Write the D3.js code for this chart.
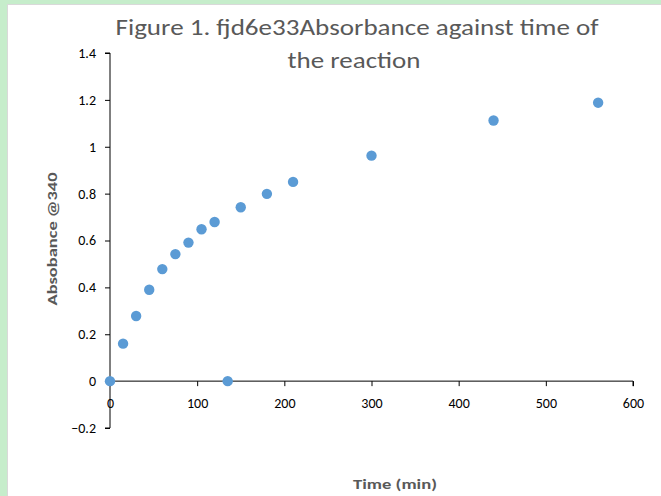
<!DOCTYPE html>
<html>
<head>
<meta charset="utf-8">
<script src="https://cdn.jsdelivr.net/npm/d3@7"></script>
<style>
  html, body { margin: 0; padding: 0; background: #c6edcb; }
  svg { display: block; }
  text { font-family: Carlito, Lato, "Open Sans", sans-serif; }
</style>
</head>
<body>
<svg id="chart" width="661" height="496"></svg>
<script>
// Reaction time course: absorbance at 340 nm
const timeMin = [0, 15, 30, 45, 60, 75, 90, 105, 120, 135, 150, 180, 210, 300, 440, 560];
const absorbance = [0, 0.160, 0.278, 0.390, 0.478, 0.542, 0.591, 0.648, 0.679, 0, 0.742, 0.799, 0.850, 0.962, 1.112, 1.188];
const xTicks = [0, 100, 200, 300, 400, 500, 600];
const yTicks = [-0.2, 0, 0.2, 0.4, 0.6, 0.8, 1, 1.2, 1.4];
const titleLines = ["Figure 1. fjd6e33Absorbance against time of", "the reaction"];

const points = timeMin.map((t, i) => ({ t, a: absorbance[i] }));

const svg = d3.select("#chart");

// chart area
svg.append("rect")
  .attr("x", 7.5).attr("y", 4.5)
  .attr("width", 670).attr("height", 500)
  .attr("fill", "#ffffff")
  .attr("stroke", "#d9d9d9");

const x = d3.scaleLinear().domain([0, 600]).range([110, 633]);
const y = d3.scaleLinear().domain([-0.2, 1.4]).range([428, 53]);

// y axis
const yAxis = svg.append("g")
  .attr("transform", `translate(${x(0)},0)`)
  .call(d3.axisLeft(y).tickValues(yTicks).tickSize(5).tickPadding(9)
    .tickFormat(d => d3.format("")(Math.round(d * 10) / 10)));
yAxis.select(".domain").attr("stroke", "#000").attr("d", `M-5,${y(1.4)}H0V${y(-0.2)}H-5`);
yAxis.selectAll(".tick line").attr("stroke", "#000");
yAxis.selectAll(".tick text").attr("fill", "#000").style("font-size", "14px");

// x axis at y = 0
const xAxis = svg.append("g")
  .attr("transform", `translate(0,${y(0)})`)
  .call(d3.axisBottom(x).tickValues(xTicks).tickSize(5).tickPadding(12));
xAxis.select(".domain").attr("stroke", "#000").attr("d", `M${x(0)},0H${x(600)}V5`);
xAxis.selectAll(".tick line").attr("stroke", "#000");
xAxis.selectAll(".tick text").attr("fill", "#000").style("font-size", "14px");

// points
svg.append("g")
  .selectAll("circle")
  .data(points)
  .join("circle")
  .attr("cx", d => x(d.t))
  .attr("cy", d => y(d.a))
  .attr("r", 5.2)
  .attr("fill", "#5b9bd5");

// title
const title = svg.append("text")
  .attr("text-anchor", "middle")
  .attr("fill", "#595959")
  .style("font-size", "23px")
  .style("font-weight", "300");
title.append("tspan").attr("x", 357).attr("y", 35).attr("textLength", 483)
  .attr("lengthAdjust", "spacingAndGlyphs").text(titleLines[0]);
title.append("tspan").attr("x", 354).attr("y", 68).attr("textLength", 133)
  .attr("lengthAdjust", "spacingAndGlyphs").text(titleLines[1]);

// axis titles
svg.append("text")
  .attr("x", 395).attr("y", 489)
  .attr("text-anchor", "middle")
  .attr("fill", "#595959")
  .style("font-size", "13px").style("font-weight", "bold")
  .attr("textLength", 84).attr("lengthAdjust", "spacingAndGlyphs")
  .text("Time (min)");

svg.append("text")
  .attr("transform", "translate(57,239) rotate(-90)")
  .attr("text-anchor", "middle")
  .attr("fill", "#595959")
  .style("font-size", "13px").style("font-weight", "bold")
  .attr("textLength", 133).attr("lengthAdjust", "spacingAndGlyphs")
  .text("Absobance @340");
</script>
</body>
</html>
